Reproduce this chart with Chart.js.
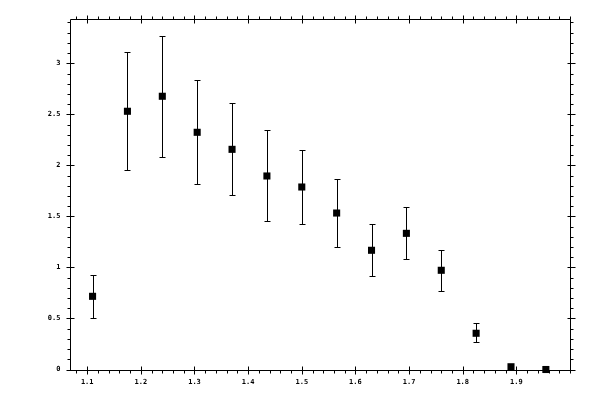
<!DOCTYPE html>
<html>
<head>
<meta charset="utf-8">
<script src="https://cdn.jsdelivr.net/npm/chart.js@4/dist/chart.umd.min.js"></script>
<style>
html,body{margin:0;padding:0;background:#fff;}
#wrap{width:600px;height:400px;}
</style>
</head>
<body>
<div id="wrap"><canvas id="c" width="600" height="400"></canvas></div>
<script>
const xValues = [1.11, 1.175, 1.24, 1.305, 1.37, 1.435, 1.5, 1.565, 1.63, 1.695, 1.76, 1.825, 1.89, 1.955];
const yValues = [0.717, 2.530, 2.677, 2.324, 2.157, 1.896, 1.788, 1.533, 1.168, 1.334, 0.972, 0.355, 0.027, 0.0];
const yHigh   = [0.923, 3.114, 3.264, 2.833, 2.608, 2.344, 2.148, 1.863, 1.423, 1.592, 1.168, 0.453, 0.027, 0.0];
const yLow    = [0.502, 1.952, 2.079, 1.817, 1.707, 1.455, 1.423, 1.197, 0.913, 1.080, 0.769, 0.266, 0.027, 0.0];
const xTickValues = [1.1, 1.2, 1.3, 1.4, 1.5, 1.6, 1.7, 1.8, 1.9];
const xTickLabels = ['1.1', '1.2', '1.3', '1.4', '1.5', '1.6', '1.7', '1.8', '1.9'];
const yTickValues = [0, 0.5, 1, 1.5, 2, 2.5, 3];
const yTickLabels = ['0', '0.5', '1', '1.5', '2', '2.5', '3'];
const xMin = 1.067, xMax = 2.0, xMinorStep = 0.02;
const yMin = 0, yMax = 3.434, yMinorStep = 0.1;

const points = xValues.map((x, i) => ({x: x, y: yValues[i]}));

function px(v){ return Math.round(v) + 0.5; }

const errorBars = {
  id: 'errorBars',
  beforeDatasetsDraw(chart) {
    const ctx = chart.ctx, xs = chart.scales.x, ys = chart.scales.y;
    ctx.save();
    ctx.strokeStyle = '#000';
    ctx.lineWidth = 1;
    xValues.forEach((x, i) => {
      if (yHigh[i] === yLow[i]) return;
      const X = px(xs.getPixelForValue(x));
      const T = Math.round(ys.getPixelForValue(yHigh[i])) + 0.5;
      const B = Math.round(ys.getPixelForValue(yLow[i])) + 0.5;
      ctx.beginPath();
      ctx.moveTo(X, T); ctx.lineTo(X, B);
      ctx.moveTo(X - 3, T); ctx.lineTo(X + 3, T);
      ctx.moveTo(X - 3, B); ctx.lineTo(X + 3, B);
      ctx.stroke();
    });
    ctx.restore();
  }
};

const frameTicks = {
  id: 'frameTicks',
  afterDraw(chart) {
    const ctx = chart.ctx, xs = chart.scales.x, ys = chart.scales.y;
    const a = chart.chartArea;
    const L = px(a.left), R = px(a.right), T = px(a.top), B = px(a.bottom);
    ctx.save();
    ctx.strokeStyle = '#000';
    ctx.lineWidth = 1;
    ctx.beginPath();
    ctx.rect(L, T, R - L, B - T);
    for (let v = Math.ceil(xMin / xMinorStep) * xMinorStep; v <= xMax + 1e-9; v += xMinorStep) {
      const X = px(xs.getPixelForValue(v));
      ctx.moveTo(X, B); ctx.lineTo(X, B + 3);
      ctx.moveTo(X, T); ctx.lineTo(X, T - 3);
    }
    xTickValues.forEach(v => {
      const X = px(xs.getPixelForValue(v));
      ctx.moveTo(X, B - 4); ctx.lineTo(X, B + 4);
      ctx.moveTo(X, T - 4); ctx.lineTo(X, T + 4);
    });
    for (let v = yMin + yMinorStep; v <= yMax + 1e-9; v += yMinorStep) {
      const Y = px(ys.getPixelForValue(v));
      ctx.moveTo(L, Y); ctx.lineTo(L - 3, Y);
      ctx.moveTo(R, Y); ctx.lineTo(R + 3, Y);
    }
    yTickValues.forEach(v => {
      const Y = px(ys.getPixelForValue(v));
      ctx.moveTo(L - 4, Y); ctx.lineTo(L + 4, Y);
      ctx.moveTo(R - 3, Y); ctx.lineTo(R + 5, Y);
    });
    ctx.stroke();
    ctx.restore();
  }
};

new Chart(document.getElementById('c'), {
  type: 'scatter',
  data: {
    datasets: [{
      data: points,
      pointStyle: 'rect',
      pointRadius: 5,
      pointHoverRadius: 5,
      borderWidth: 0,
      backgroundColor: '#000',
      borderColor: '#000',
      showLine: false,
      clip: false
    }]
  },
  options: {
    responsive: false,
    animation: false,
    events: [],
    layout: { padding: { top: 19, right: 30, left: 0, bottom: 0 } },
    plugins: { legend: { display: false }, tooltip: { enabled: false } },
    scales: {
      x: {
        type: 'linear',
        min: xMin, max: xMax,
        afterBuildTicks: s => { s.ticks = xTickValues.map(v => ({value: v})); },
        afterFit: s => { s.height = 30.5; },
        grid: { display: false, drawTicks: false },
        border: { display: false },
        ticks: {
          autoSkip: false, maxRotation: 0, padding: 8,
          color: '#000',
          font: { family: 'DejaVu Sans Mono', size: 7, weight: 'bold' },
          callback: (v) => { const i = xTickValues.findIndex(t => Math.abs(t - v) < 1e-9); return i >= 0 ? xTickLabels[i] : ''; }
        }
      },
      y: {
        type: 'linear',
        min: yMin, max: yMax,
        afterBuildTicks: s => { s.ticks = yTickValues.map(v => ({value: v})); },
        afterFit: s => { s.width = 69.5; },
        grid: { display: false, drawTicks: false },
        border: { display: false },
        ticks: {
          autoSkip: false, padding: 9,
          color: '#000',
          font: { family: 'DejaVu Sans Mono', size: 7, weight: 'bold' },
          callback: (v) => { const i = yTickValues.findIndex(t => Math.abs(t - v) < 1e-9); return i >= 0 ? yTickLabels[i] : ''; }
        }
      }
    }
  },
  plugins: [errorBars, frameTicks]
});
</script>
</body>
</html>
